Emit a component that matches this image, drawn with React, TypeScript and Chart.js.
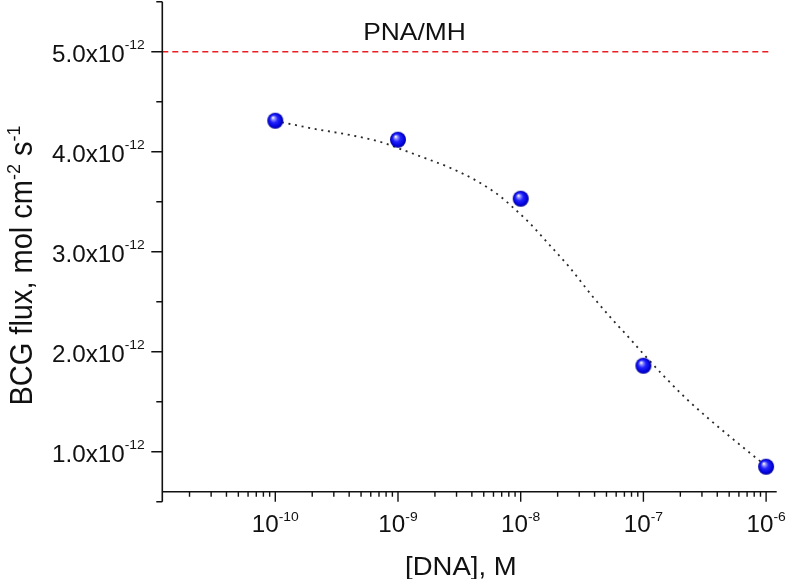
import React, { useEffect, useRef } from "react";
import { Chart, registerables } from "chart.js";

Chart.register(...registerables);

// ---- data ----
const pointX = [1e-10, 1e-9, 1e-8, 1e-7, 1e-6];
const pointY = [4.31e-12, 4.12e-12, 3.53e-12, 1.86e-12, 0.85e-12];

// dotted fit curve
const fitX = [
  1.0e-10, 1.32e-10, 2.18e-10, 4.07e-10, 7.55e-10, 1.10e-9, 1.76e-9, 2.65e-9,
  4.50e-9, 6.75e-9, 8.93e-9, 1.17e-8, 1.72e-8, 2.50e-8, 3.87e-8, 5.57e-8,
  7.94e-8, 1.0e-7, 1.44e-7, 2.22e-7, 3.33e-7, 5.00e-7, 7.74e-7, 1.0e-6,
];
const fitY = [
  4.307e-12, 4.277e-12, 4.224e-12, 4.167e-12, 4.09e-12, 4.017e-12, 3.924e-12, 3.84e-12,
  3.70e-12, 3.557e-12, 3.427e-12, 3.292e-12, 3.067e-12, 2.844e-12, 2.55e-12, 2.324e-12,
  2.117e-12, 1.977e-12, 1.767e-12, 1.534e-12, 1.34e-12, 1.157e-12, 0.967e-12, 0.857e-12,
];

const refX = [1.2e-11, 1.09e-6];
const refY = [5.0e-12, 5.0e-12];

const xMin = 1.2e-11;
const xMax = 1.22e-6;
const yMin = 0.6e-12;
const yMax = 5.5e-12;

const xMajorTicks = [1e-10, 1e-9, 1e-8, 1e-7, 1e-6];
const xTickBase = "10";
const xTickExp = ["-10", "-9", "-8", "-7", "-6"];

const yMajorTicks = [1.0e-12, 2.0e-12, 3.0e-12, 4.0e-12, 5.0e-12];
const yTickMantissa = ["1.0x10", "2.0x10", "3.0x10", "4.0x10", "5.0x10"];
const yTickExp = "-12";
const yMinorTicks = [0.5e-12, 1.5e-12, 2.5e-12, 3.5e-12, 4.5e-12, 5.5e-12];

const xTitle = "[DNA], M";
const yTitleParts = ["BCG flux, mol cm", "-2", " s", "-1"];
const annotationText = "PNA/MH";
const annotationX = 5.2e-10;
const annotationY = 5.12e-12;

// ---- styling ----
const FONT = "'Liberation Sans', Arial, sans-serif";
const SX = 1.1; // horizontal stretch of the reference's text
const SXT = 1.03; // stretch for tick labels

type Seg = { t: string; sup?: boolean };

function drawSegs(
  ctx: CanvasRenderingContext2D,
  segs: Seg[],
  align: "left" | "center" | "right",
  baseSize: number,
  supSize: number,
  rise: number
) {
  const bf = `${baseSize}px ${FONT}`;
  const sf = `${supSize}px ${FONT}`;
  let total = 0;
  const widths: number[] = [];
  for (const s of segs) {
    ctx.font = s.sup ? sf : bf;
    const w = ctx.measureText(s.t).width;
    widths.push(w);
    total += w;
  }
  let x = align === "left" ? 0 : align === "center" ? -total / 2 : -total;
  ctx.textAlign = "left";
  ctx.textBaseline = "alphabetic";
  segs.forEach((s, i) => {
    ctx.font = s.sup ? sf : bf;
    ctx.fillText(s.t, x, s.sup ? -rise : 0);
    x += widths[i];
  });
}

function makeSphere(r: number) {
  const s = r * 2 + 2;
  const c = document.createElement("canvas");
  c.width = s;
  c.height = s;
  const g = c.getContext("2d")!;
  const cx = s / 2;
  const cy = s / 2;
  const grad = g.createRadialGradient(cx - r * 0.3, cy - r * 0.4, 0.4, cx, cy, r);
  grad.addColorStop(0, "#f6f6ff");
  grad.addColorStop(0.18, "#8f8fff");
  grad.addColorStop(0.45, "#2222ff");
  grad.addColorStop(0.85, "#0000d6");
  grad.addColorStop(1, "#00008a");
  g.fillStyle = grad;
  g.beginPath();
  g.arc(cx, cy, r, 0, Math.PI * 2);
  g.fill();
  return c;
}

const axesPlugin = {
  id: "originAxes",
  afterDraw(chart: any) {
    const ctx: CanvasRenderingContext2D = chart.ctx;
    const { left, right, top, bottom } = chart.chartArea;
    const xs = chart.scales.x;
    const ys = chart.scales.y;
    ctx.save();
    ctx.strokeStyle = "#111";
    ctx.fillStyle = "#111";
    ctx.lineWidth = 1.6;
    ctx.lineCap = "butt";

    // axis lines
    ctx.beginPath();
    ctx.moveTo(left, top);
    ctx.lineTo(left, ys.getPixelForValue(yMinorTicks[0]));
    ctx.moveTo(left, bottom);
    ctx.lineTo(right, bottom);
    ctx.stroke();

    // y ticks
    ctx.lineWidth = 1.4;
    ctx.beginPath();
    for (const v of yMajorTicks) {
      const py = ys.getPixelForValue(v);
      ctx.moveTo(left, py);
      ctx.lineTo(left - 11, py);
    }
    for (const v of yMinorTicks) {
      const py = ys.getPixelForValue(v);
      ctx.moveTo(left, py);
      ctx.lineTo(left - 6, py);
    }
    // x ticks
    for (const v of xMajorTicks) {
      const px = xs.getPixelForValue(v);
      ctx.moveTo(px, bottom);
      ctx.lineTo(px, bottom + 10);
    }
    for (let n = -12; n <= -6; n++) {
      for (let k = 2; k <= 9; k++) {
        const v = k * Math.pow(10, n);
        if (v < xMin || v > xMax) continue;
        const px = xs.getPixelForValue(v);
        ctx.moveTo(px, bottom);
        ctx.lineTo(px, bottom + 5);
      }
    }
    ctx.stroke();

    // y tick labels
    yMajorTicks.forEach((v, i) => {
      const py = ys.getPixelForValue(v);
      ctx.save();
      ctx.translate(left - 17.5, py + 10.5);
      ctx.scale(SXT, 1);
      drawSegs(ctx, [{ t: yTickMantissa[i] }, { t: yTickExp, sup: true }], "right", 23.5, 13.5, 13);
      ctx.restore();
    });

    // x tick labels
    xMajorTicks.forEach((v, i) => {
      const px = xs.getPixelForValue(v);
      ctx.save();
      ctx.translate(px, bottom + 40);
      ctx.scale(SXT, 1);
      drawSegs(ctx, [{ t: xTickBase }, { t: xTickExp[i], sup: true }], "center", 23.5, 13.5, 10.5);
      ctx.restore();
    });

    // x title
    ctx.save();
    ctx.translate(460.8, 575);
    ctx.scale(SX, 1);
    drawSegs(ctx, [{ t: xTitle }], "center", 25, 16, 0);
    ctx.restore();

    // y title
    ctx.save();
    ctx.translate(32.3, 265.5);
    ctx.scale(1.05, 1);
    ctx.rotate(-Math.PI / 2);
    drawSegs(
      ctx,
      [
        { t: yTitleParts[0] },
        { t: yTitleParts[1], sup: true },
        { t: yTitleParts[2] },
        { t: yTitleParts[3], sup: true },
      ],
      "center",
      29,
      18,
      12
    );
    ctx.restore();

    // annotation
    ctx.save();
    ctx.translate(xs.getPixelForValue(annotationX), ys.getPixelForValue(annotationY));
    ctx.scale(SX, 1);
    drawSegs(ctx, [{ t: annotationText }], "left", 24, 16, 0);
    ctx.restore();

    ctx.restore();
  },
};

export default function App() {
  const ref = useRef<HTMLCanvasElement | null>(null);

  useEffect(() => {
    if (!ref.current) return;
    const sphere = makeSphere(8);
    const chart = new Chart(ref.current, {
      type: "line",
      data: {
        datasets: [
          {
            type: "scatter",
            label: "data",
            data: pointX.map((x, i) => ({ x, y: pointY[i] })),
            pointStyle: sphere as any,
            pointRadius: 8,
            order: 0,
          } as any,
          {
            type: "line",
            label: "fit",
            data: fitX.map((x, i) => ({ x, y: fitY[i] })),
            borderColor: "#2a2a2a",
            borderWidth: 1.8,
            borderDash: [2, 4.7],
            pointRadius: 0,
            cubicInterpolationMode: "monotone",
            fill: false,
            order: 1,
          },
          {
            type: "line",
            label: "PNA/MH",
            data: refX.map((x, i) => ({ x, y: refY[i] })),
            borderColor: "rgb(238,28,32)",
            borderWidth: 1.6,
            borderDash: [6, 4],
            pointRadius: 0,
            fill: false,
            order: 2,
          },
        ],
      },
      options: {
        animation: false,
        responsive: true,
        maintainAspectRatio: false,
        layout: { autoPadding: false, padding: { top: 1.7, right: 11.3, left: 0, bottom: 0 } },
        plugins: { legend: { display: false }, tooltip: { enabled: false } },
        scales: {
          x: {
            type: "logarithmic",
            min: xMin,
            max: xMax,
            grid: { display: false },
            border: { display: false },
            ticks: { display: false },
            afterFit: (s: any) => {
              s.height = 87.3;
            },
          },
          y: {
            type: "linear",
            min: yMin,
            max: yMax,
            grid: { display: false },
            border: { display: false },
            ticks: { display: false },
            afterFit: (s: any) => {
              s.width = 162.3;
            },
          },
        },
      },
      plugins: [axesPlugin],
    });
    return () => chart.destroy();
  }, []);

  return (
    <div
      style={{
        position: "fixed",
        left: 0,
        top: 0,
        width: 788,
        height: 579,
        background: "#fff",
      }}
    >
      <canvas ref={ref} style={{ display: "block" }} />
    </div>
  );
}
